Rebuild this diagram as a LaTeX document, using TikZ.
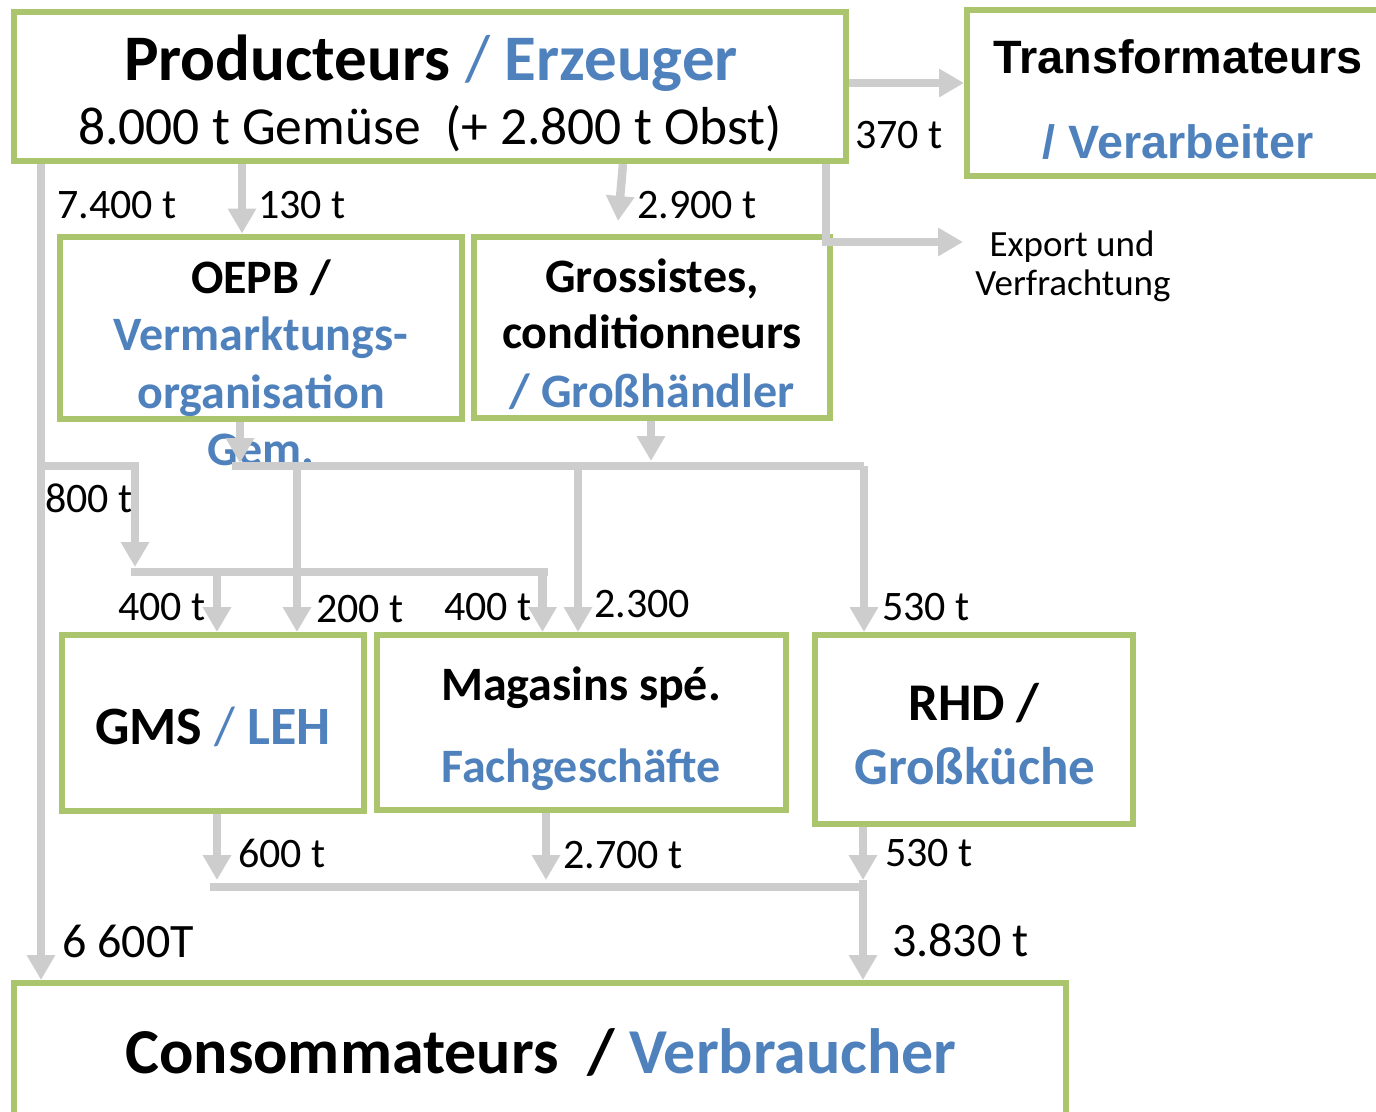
\documentclass[tikz,border=0pt]{standalone}
\usepackage{fontspec}
\setmainfont{Carlito}
\newfontfamily\arialfont{Liberation Sans}
\usetikzlibrary{arrows.meta}

\definecolor{boxgreen}{RGB}{170,197,110}
\definecolor{flowgray}{RGB}{205,205,205}
\definecolor{tblue}{RGB}{79,129,189}

\newcommand\fsz[1]{\fontsize{#1}{#1}\selectfont}

\tikzset{
  box/.style={draw=boxgreen, line width=6pt, inner sep=0pt},
  bus/.style={draw=flowgray, line width=8.5pt},
  flow/.style={bus, -{Triangle[length=25pt,width=27pt]}},
  txt/.style={inner sep=0pt, anchor=base},
  num/.style={inner sep=0pt, anchor=base west, font=\fsz{42}},
  bignum/.style={num, font=\fsz{48}},
  hd/.style={txt, font=\fsz{48}\bfseries},
}

\begin{document}
\begin{tikzpicture}[x=1pt, y=-1pt]
\useasboundingbox (0,0) rectangle (1376,1111);
\clip (0,0) rectangle (1376,1111);

% ---------- boxes ----------
\node[box, minimum width=832pt, minimum height=149pt] (prod)  at (430,86.5) {};
\node[box, minimum width=425pt, minimum height=166pt] (trans) at (1179.5,93) {};
\node[box, minimum width=402pt, minimum height=182pt] (oepb)  at (260.5,327.5) {};
\node[box, minimum width=356pt, minimum height=181pt] (gros)  at (651.5,327) {};
\node[box, minimum width=302pt, minimum height=176pt] (gms)   at (213,723) {};
\node[box, minimum width=409pt, minimum height=175pt] (mag)   at (581.5,722.5) {};
\node[box, minimum width=318pt, minimum height=189pt] (rhd)   at (974,729.5) {};
\node[box, minimum width=1052pt, minimum height=146pt] (cons) at (540,1056) {};

% ---------- box texts ----------
\node[txt, font=\fsz{65}\bfseries] (prodA) at (431,80)
  {Producteurs \textcolor{tblue}{\mdseries/} \textcolor{tblue}{Erzeuger}};
\node[txt, font=\fsz{53.5}] (prodB) at (430,144) {8.000 t Gemüse\ \ (+ 2.800 t Obst)};

\node[txt, font=\arialfont\fsz{46.8}\bfseries] (transA) at (1178,73) {Transformateurs};
\node[txt, font=\arialfont\fsz{46.8}\bfseries, text=tblue] (transB) at (1178,158) {/ Verarbeiter};

\node[txt, font=\fsz{37}] (expA) at (1072,256) {Export und};
\node[txt, font=\fsz{37}] (expB) at (1073,295) {Verfrachtung};

\node[hd] (oepbA) at (261,293) {OEPB /};
\node[hd, text=tblue] (oepbB) at (261,350) {Vermarktungs-};
\node[hd, text=tblue] (oepbC) at (261,408) {organisation};
\node[hd, text=tblue] (oepbD) at (261,465) {Gem.};

\node[hd] (grosA) at (652,292) {Grossistes,};
\node[hd] (grosB) at (652,348) {conditionneurs};
\node[hd, text=tblue] (grosC) at (652,407) {/ Großhändler};

\node[txt, font=\fsz{54}\bfseries] (gmsA) at (213,744)
  {GMS \textcolor{tblue}{\mdseries/} \textcolor{tblue}{LEH}};

\node[hd] (magA) at (581,700) {Magasins spé.};
\node[hd, text=tblue] (magB) at (581,782) {Fachgeschäfte};

\node[txt, font=\fsz{53}\bfseries] (rhdA) at (974,720) {RHD /};
\node[txt, font=\fsz{53}\bfseries, text=tblue] (rhdB) at (975,784) {Großküche};

\node[txt, font=\fsz{64}\bfseries] (consA) at (541,1073)
  {Consommateurs\ \ / \textcolor{tblue}{Verbraucher}};

% ---------- quantities ----------
\node[num] (q370)  at (855,148) {370 t};
\node[num] (q7400) at (57,218)  {7.400 t};
\node[num] (q130)  at (258,218) {130 t};
\node[num] (q2900) at (637,218) {2.900 t};
\node[num] (q800)  at (45,512)  {800 t};
\node[num] (q400a) at (118,620) {400 t};
\node[num] (q200)  at (316,622) {200 t};
\node[num] (q400b) at (444,620) {400 t};
\node[num] (q2300) at (594,617) {2.300};
\node[num] (q530a) at (882,620) {530 t};
\node[num] (q600)  at (238,867) {600 t};
\node[num] (q2700) at (563,868) {2.700 t};
\node[num] (q530b) at (885,866) {530 t};
\node[bignum] (q3830) at (892,956) {3.830 t};
\node[bignum] (q6600) at (62,957)  {6 600T};

% ---------- routing points ----------
\coordinate (xtrunk) at (41,0);
\coordinate (xoepb)  at (242,0);
\coordinate (xgrosA) at (623,0);
\coordinate (gros2900) at (618,221);
\coordinate (exk)    at (826,242);
\coordinate (expend) at (963,242);
\coordinate (trY)    at (0,83);
\coordinate (b800a)  at (41,466);
\coordinate (b800b)  at (135,466);
\coordinate (b800c)  at (135,567);
\coordinate (busMidL) at (131,572);
\coordinate (busMidR) at (548,572);
\coordinate (xgmsA)  at (217,0);
\coordinate (xmagA)  at (542.5,0);
\coordinate (oepbOut) at (240,463);
\coordinate (xoepbO) at (240,0);
\coordinate (grosOut) at (651,461);
\coordinate (xgrosO) at (651,0);
\coordinate (busTopL) at (232,466);
\coordinate (busTopR) at (864,466);
\coordinate (xgms200) at (297,0);
\coordinate (xmag2300) at (578,0);
\coordinate (xgmsO)  at (217,0);
\coordinate (xmagO)  at (546,0);
\coordinate (xrhdO)  at (863,0);
\coordinate (tipGms) at (217,880);
\coordinate (tipMag) at (546,880);
\coordinate (tipRhd) at (863,880);
\coordinate (busBotL) at (210,887);
\coordinate (busBotR) at (863,887);

% ---------- flows ----------
\draw[flow] (prod.east |- trY) -- (trans.west |- trY);
\draw[flow] (exk |- prod.south) -- (exk) -- (expend);
\draw[flow] (prod.south -| xoepb) -- (oepb.north -| xoepb);
\draw[flow] (prod.south -| xgrosA) -- (gros2900);
\draw[flow] (prod.south -| xtrunk) -- (cons.north -| xtrunk);

\draw[flow] (b800a) -- (b800b) -- (b800c);
\draw[bus] (busMidL) -- (busMidR);
\draw[flow] (busMidL -| xgmsA) -- (gms.north -| xgmsA);
\draw[flow] (busMidL -| xmagA) -- (mag.north -| xmagA);

\draw[flow] (oepb.south -| xoepbO) -- (oepbOut);
\draw[flow] (gros.south -| xgrosO) -- (grosOut);
\draw[bus] (busTopL) -- (busTopR);
\draw[flow] (busTopL -| xgms200) -- (gms.north -| xgms200);
\draw[flow] (busTopL -| xmag2300) -- (mag.north -| xmag2300);
\draw[flow] (busTopR) -- (rhd.north -| busTopR);

\draw[flow] (gms.south -| xgmsO) -- (tipGms);
\draw[flow] (mag.south -| xmagO) -- (tipMag);
\draw[flow] (rhd.south -| xrhdO) -- (tipRhd);
\draw[bus] (busBotL) -- (busBotR);
\draw[flow] (tipRhd) -- (cons.north -| xrhdO);
\end{tikzpicture}
\end{document}
